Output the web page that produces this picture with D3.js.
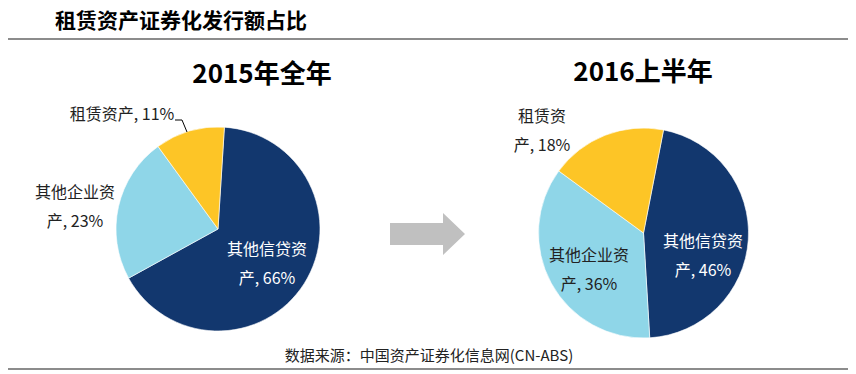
<!DOCTYPE html>
<html>
<head>
<meta charset="utf-8">
<script src="https://cdn.jsdelivr.net/npm/d3@7"></script>
<style>
  body { margin: 0; background: #fff; }
  svg { display: block; font-family: "Microsoft YaHei", "Noto Sans CJK SC", sans-serif; }
</style>
</head>
<body>
<div id="chart"></div>
<script>
// data
const categories = ["其他信贷资产", "其他企业资产", "租赁资产"];
const values2015 = [66, 23, 11];
const values2016 = [46, 36, 18];
const pieTitles = ["2015年全年", "2016上半年"];
const chartTitle = "租赁资产证券化发行额占比";
const sourceText = "数据来源：中国资产证券化信息网(CN-ABS)";

const colors = ["#12376e", "#8fd6e8", "#fdc526"];

const width = 856;
const height = 374;

const svg = d3.select("#chart")
  .append("svg")
  .attr("width", width)
  .attr("height", height)
  .attr("viewBox", [0, 0, width, height]);

// header + rules
svg.append("text")
  .attr("x", 55).attr("y", 28)
  .attr("font-size", 21).attr("font-weight", "bold")
  .text(chartTitle);

svg.append("line")
  .attr("x1", 8).attr("x2", 848).attr("y1", 39).attr("y2", 39)
  .attr("stroke", "#8c8c8c").attr("stroke-width", 2);

svg.append("line")
  .attr("x1", 8).attr("x2", 848).attr("y1", 369).attr("y2", 369)
  .attr("stroke", "#8c8c8c").attr("stroke-width", 2);

svg.append("text")
  .attr("x", 429).attr("y", 361)
  .attr("text-anchor", "middle")
  .attr("font-size", 15)
  .attr("fill", "#222")
  .text(sourceText);

// arrow
svg.append("path")
  .attr("d", "M390,223 H443 V213 L465,234 L443,255 V245 H390 Z")
  .attr("fill", "#c0c0c0");

// pies
const pies = [
  {
    values: values2015, title: pieTitles[0], cx: 218, cy: 229, r: 102, start: 3.6,
    titleX: 262, titleY: 83,
    labels: [
      { lines: ["其他信贷资", "产, " + values2015[0] + "%"], x: 267, y: 255, fill: "#fff" },
      { lines: ["其他企业资", "产, " + values2015[1] + "%"], x: 75, y: 198, fill: "#222" },
      { lines: ["租赁资产, " + values2015[2] + "%"], x: 122, y: 120, fill: "#222" }
    ],
    leader: [[175, 120], [182, 120], [187, 132]]
  },
  {
    values: values2016, title: pieTitles[1], cx: 643.5, cy: 233, r: 105, start: 11,
    titleX: 643, titleY: 81,
    labels: [
      { lines: ["其他信贷资", "产, " + values2016[0] + "%"], x: 703, y: 247, fill: "#fff" },
      { lines: ["其他企业资", "产, " + values2016[1] + "%"], x: 589, y: 261, fill: "#222" },
      { lines: ["租赁资", "产, " + values2016[2] + "%"], x: 542, y: 122, fill: "#222" }
    ]
  }
];

const lineGap = 28.5;

pies.forEach(p => {
  const g = svg.append("g").attr("transform", `translate(${p.cx},${p.cy})`);

  const pie = d3.pie()
    .sort(null)
    .startAngle(p.start * Math.PI / 180)
    .endAngle(p.start * Math.PI / 180 + 2 * Math.PI);

  const arc = d3.arc().innerRadius(0).outerRadius(p.r);

  g.selectAll("path")
    .data(pie(p.values))
    .join("path")
    .attr("d", arc)
    .attr("fill", (d, i) => colors[i])
    .attr("stroke", "#fff")
    .attr("stroke-width", 0.6);

  svg.append("text")
    .attr("x", p.titleX).attr("y", p.titleY)
    .attr("text-anchor", "middle")
    .attr("font-size", 26).attr("font-weight", "bold")
    .attr("fill", "#000")
    .text(p.title);

  p.labels.forEach(l => {
    const t = svg.append("text")
      .attr("text-anchor", "middle")
      .attr("font-size", 16)
      .attr("fill", l.fill);
    l.lines.forEach((s, j) => {
      t.append("tspan")
        .attr("x", l.x)
        .attr("y", l.y + j * lineGap)
        .text(s);
    });
  });

  if (p.leader) {
    svg.append("path")
      .attr("d", d3.line()(p.leader))
      .attr("fill", "none")
      .attr("stroke", "#000")
      .attr("stroke-width", 1);
  }
});
</script>
</body>
</html>
